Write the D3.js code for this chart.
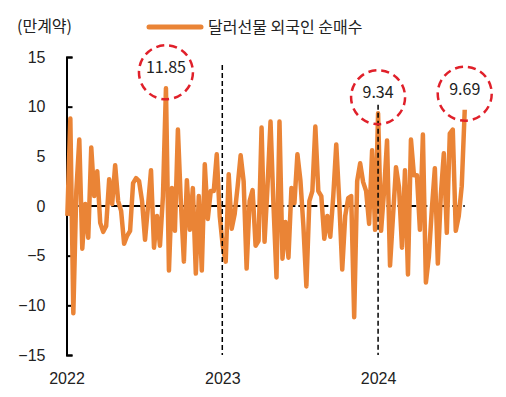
<!DOCTYPE html>
<html>
<head>
<meta charset="utf-8">
<script src="https://cdn.jsdelivr.net/npm/d3@7"></script>
<style>
  body { margin: 0; background: #fff; }
  svg { font-family: "Noto Sans CJK KR", "Noto Sans", sans-serif; }
  .axis text { font-size: 16px; fill: #222; }
  .axis path, .axis line { stroke: #000; stroke-width: 2; }
</style>
</head>
<body>
<div id="chart"></div>
<script>
//*********************** DATA ***********************
// weekly net buying of USD futures by foreigners (10k contracts), weeks from 2022-01-03
var firstWeek = "2022-01-03";
var netBuy = [
  -1.0, 8.8, -10.8, 1.5, 6.7, -4.3, 0.2, -3.2, 5.9, 1.0,
  3.5, -1.7, -2.6, -2.0, 2.7, 0.2, 4.1, 0.5, -0.5, -3.8,
  -3.0, -2.5, 2.3, 2.8, 2.5, 0.5, -3.4, 0.0, 3.6, -4.2,
  -1.0, -4.0, 1.0, 11.85, -6.5, 1.8, -2.5, 7.7, 0.3, -5.6,
  2.6, -2.4, 1.8, -6.8, 1.0, -6.5, 4.2, -1.3, 1.5, 1.5,
  5.2, -1.0, -4.0, -5.6, 3.2, -2.3, -0.8, 2.0, 5.1, 2.5,
  -6.3, 0.5, 1.6, -4.0, -3.5, 7.9, -3.6, 2.0, 8.5, 0.0,
  -7.2, 8.5, -5.3, -1.6, -5.2, 1.8, 0.3, 5.2, 2.6, -2.0,
  -8.1, 0.5, 1.5, 8.0, 1.5, 1.0, -3.3, -1.0, -3.1, 1.0,
  6.2, 0.5, -6.4, -1.0, 0.8, 1.0, -11.2, 2.5, 4.3, 2.4,
  1.5, -1.8, 5.6, -2.4, 9.34, -2.5, 1.5, 6.6, -6.0, -1.0,
  3.9, 1.9, -4.2, 3.6, -6.9, 6.7, 3.1, 3.1, -2.4, 7.2,
  -7.7, -5.1, -0.3, 3.8, -5.8, 1.1, 5.3, -2.7, 7.3, 7.7,
  -2.5, -1.0, 2.0, 9.69
];
var yTicks = [-15, -10, -5, 0, 5, 10, 15];
var yearLabels = ["2022", "2023", "2024"];
var yearMarks = ["2023-01-01", "2024-01-01"];
var yearMarkTop = [14.2, 10.2];
var annoIdx = [33, 104, 133];
var annoLabels = ["11.85", "9.34", "9.69"];
var seriesName = "달러선물 외국인 순매수";
var unitLabel = "(만계약)";

//*********************** DECLARE VARIABLES ***********************
var width = 506,
    height = 397,
    orange = "#EA8436",
    red = "#E0202A",
    parse = d3.timeParse("%Y-%m-%d");

var start = parse(firstWeek);
var data = netBuy.map(function(v, i) {
  return {date: d3.timeWeek.offset(start, i), val: v};
});

var xScale = d3.scaleTime()
      .domain([new Date(2022, 0, 1), new Date(2024, 7, 1)])
      .range([66.5, 469]),
    yScale = d3.scaleLinear().domain([-15, 15]).range([355, 57]);

var svg = d3.select("#chart").append("svg")
    .attr("width", width)
    .attr("height", height);

//*********************** AXES ***********************
svg.append("g")
    .attr("class", "y axis")
    .attr("transform", "translate(66.5,0)")
    .call(d3.axisLeft(yScale)
      .tickValues(yTicks)
      .tickSizeInner(-6)
      .tickSizeOuter(-6)
      .tickPadding(21));

var xAxis = svg.append("g")
    .attr("class", "x axis")
    .attr("transform", "translate(0,355)")
    .call(d3.axisBottom(xScale)
      .tickValues(yearLabels.map(function(y) { return parse(y + "-01-01"); }))
      .tickFormat(d3.timeFormat("%Y"))
      .tickSize(0)
      .tickPadding(18));
xAxis.select(".domain").remove();

//zero line
svg.append("line")
    .attr("x1", xScale(data[0].date))
    .attr("x2", xScale(data[data.length - 1].date))
    .attr("y1", yScale(0))
    .attr("y2", yScale(0))
    .attr("stroke", "#000")
    .attr("stroke-width", 2)
    .attr("stroke-dasharray", "8,3");

//*********************** SERIES ***********************
var line = d3.line()
    .x(function(d) { return xScale(d.date); })
    .y(function(d) { return yScale(d.val); });

svg.append("path").datum(data)
    .attr("d", line)
    .attr("fill", "none")
    .attr("stroke", orange)
    .attr("stroke-width", 4.5)
    .attr("stroke-linejoin", "round");

//year dividers
svg.selectAll(".yearMark")
    .data(yearMarks)
    .enter().append("line")
    .attr("class", "yearMark")
    .attr("x1", function(d) { return xScale(parse(d)); })
    .attr("x2", function(d) { return xScale(parse(d)); })
    .attr("y1", function(d, i) { return yScale(yearMarkTop[i]); })
    .attr("y2", yScale(-15))
    .attr("stroke", "#000")
    .attr("stroke-width", 1.5)
    .attr("stroke-dasharray", "5,3");

//*********************** ANNOTATIONS ***********************
var anno = svg.selectAll(".anno")
    .data(annoIdx)
    .enter().append("g")
    .attr("class", "anno")
    .attr("transform", function(d) {
      return "translate(" + xScale(data[d].date) + "," + (yScale(data[d].val) - 16) + ")";
    });

anno.append("circle")
    .attr("r", 27)
    .attr("fill", "none")
    .attr("stroke", red)
    .attr("stroke-width", 2.5)
    .attr("stroke-dasharray", "8,5");

anno.append("text")
    .attr("y", 1)
    .attr("text-anchor", "middle")
    .attr("font-size", 16)
    .attr("fill", "#222")
    .text(function(d, i) { return annoLabels[i]; });

//*********************** LEGEND ***********************
svg.append("text")
    .attr("x", 17)
    .attr("y", 32)
    .attr("font-size", 16)
    .attr("fill", "#222")
    .text(unitLabel);

svg.append("line")
    .attr("x1", 149)
    .attr("x2", 201)
    .attr("y1", 27)
    .attr("y2", 27)
    .attr("stroke", orange)
    .attr("stroke-width", 5)
    .attr("stroke-linecap", "round");

svg.append("text")
    .attr("x", 208)
    .attr("y", 33)
    .attr("font-size", 16)
    .attr("fill", "#222")
    .text(seriesName);
</script>
</body>
</html>
